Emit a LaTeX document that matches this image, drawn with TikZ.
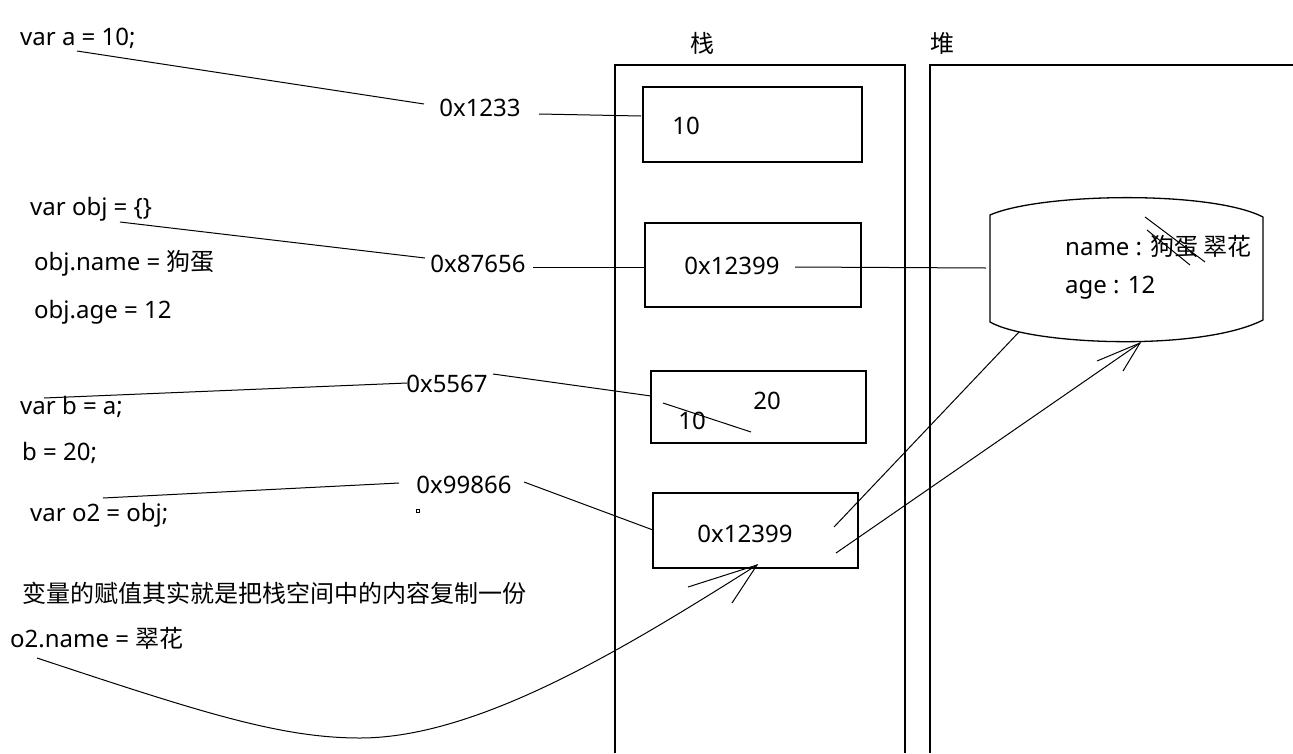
\documentclass[tikz,border=0pt]{standalone}
\usepackage{fontspec}
\setmainfont{Noto Sans}
\newfontfamily\cjk{Noto Sans CJK SC}
\begin{document}
\begin{tikzpicture}[x=1pt,y=-1pt,
  every node/.style={inner sep=0pt, font=\fontsize{24}{28}\selectfont},
  ln/.style={line width=1pt},
  frame/.style={line width=1.3pt},
  box/.style={draw, line width=1.3pt}]
\useasboundingbox[fill=white] (0,0) rectangle (1293,753);

% stack and heap frames
\draw[frame] (615,753) -- (615,65) -- (905,65) -- (905,753);
\draw[frame] (930,753) -- (930,65) -- (1293,65);
\node (zhan) at (702,43) {\cjk 栈};
\node (dui) at (942,43) {\cjk 堆};

% stack boxes
\node[box, minimum width=219pt, minimum height=75pt] (b1) at (752.5,124.5) {};
\node[box, minimum width=216pt, minimum height=84pt] (b2) at (753,265) {};
\node[box, minimum width=215pt, minimum height=72pt] (b3) at (758.5,407) {};
\node[box, minimum width=205pt, minimum height=75pt] (b4) at (755.5,530.5) {};
\node (v1) at (686,126) {10};
\node (v2) at (732,266) {0x12399};
\node (v3a) at (767,401) {20};
\node (v3b) at (692,421) {10};
\node (v4) at (745,534) {0x12399};
\coordinate (s1) at (663,403);
\coordinate (s2) at (751,432);
\draw[ln] (s1) -- (s2);

% heap object (cylinder)
\draw[frame] (990,215) .. controls (1040,193) and (1210,190) .. (1263,217)
  -- (1263,320) .. controls (1200,352) and (1030,345) .. (990,322) -- cycle;
\node[anchor=west] (hname) at (1065,247) {name : {\cjk 狗蛋 翠花}};
\node[anchor=west] (hage) at (1065,288) {age : 12};
\coordinate (x1) at (1145,217);
\coordinate (x2) at (1205,262);
\coordinate (x3) at (1147,230);
\coordinate (x4) at (1190,265);
\draw[ln] (x1) -- (x2);
\draw[ln] (x3) -- (x4);

% code on the left
\node[anchor=west] (ca) at (20,38) {var a = 10;};
\node[anchor=west] (cobj) at (30,209) {var obj = \{\}};
\node[anchor=west] (cname) at (34,263) {obj.name = {\cjk 狗蛋}};
\node[anchor=west] (cage) at (34,312) {obj.age = 12};
\node[anchor=west] (cb) at (20,407) {var b = a;};
\node[anchor=west] (cb2) at (22,453) {b = 20;};
\node[anchor=west] (co2) at (30,515) {var o2 = obj;};
\node[anchor=west] (note) at (22,593) {\cjk 变量的赋值其实就是把栈空间中的内容复制一份};
\node[anchor=west] (cn2) at (10,638) {o2.name = {\cjk 翠花}};

% addresses
\node (ad1) at (480,108) {0x1233};
\node (ad2) at (478,264) {0x87656};
\node (ad3) at (447,384) {0x5567};
\node (ad4) at (464,485) {0x99866};
\draw[line width=0.8pt] (416.5,509.5) rectangle (419.5,512.5);

% connector end points
\coordinate (p1) at (77,51);   \coordinate (p2) at (424,104);
\coordinate (p3) at (539,114); \coordinate (p4) at (641,116);
\coordinate (p5) at (120,222); \coordinate (p6) at (425,258);
\coordinate (p7) at (533,267); \coordinate (p8) at (644,267);
\coordinate (p9) at (795,267); \coordinate (p10) at (986,268);
\coordinate (p11) at (44,398); \coordinate (p12) at (407,383);
\coordinate (p13) at (493,374); \coordinate (p14) at (651,396);
\coordinate (p15) at (103,498); \coordinate (p16) at (399,483);
\coordinate (p17) at (524,482); \coordinate (p18) at (653,530);
\coordinate (q1) at (834,527); \coordinate (q2) at (1019,332);
\coordinate (q3) at (836,553); \coordinate (q4) at (1140,343);
\coordinate (q5) at (1097,361); \coordinate (q6) at (1123,371);
\coordinate (r1) at (37,658);  \coordinate (r2) at (360,738);
\coordinate (r3) at (757,565);
\coordinate (r4) at (688,587); \coordinate (r5) at (732,603);

\draw[ln] (p1) -- (p2);
\draw[ln] (p3) -- (p4);
\draw[ln] (p5) -- (p6);
\draw[ln] (p7) -- (p8);
\draw[ln] (p9) -- (p10);
\draw[ln] (p11) -- (p12);
\draw[ln] (p13) -- (p14);
\draw[ln] (p15) -- (p16);
\draw[ln] (p17) -- (p18);
\draw[ln] (q1) -- (q2);
\draw[ln] (q3) -- (q4);
\draw[ln] (q5) -- (q4) -- (q6);
\draw[ln] (r1) .. controls (200,712) and (280,738) .. (r2)
  .. controls (480,738) and (630,645) .. (r3);
\draw[ln] (r4) -- (r3) -- (r5);
\end{tikzpicture}
\end{document}
